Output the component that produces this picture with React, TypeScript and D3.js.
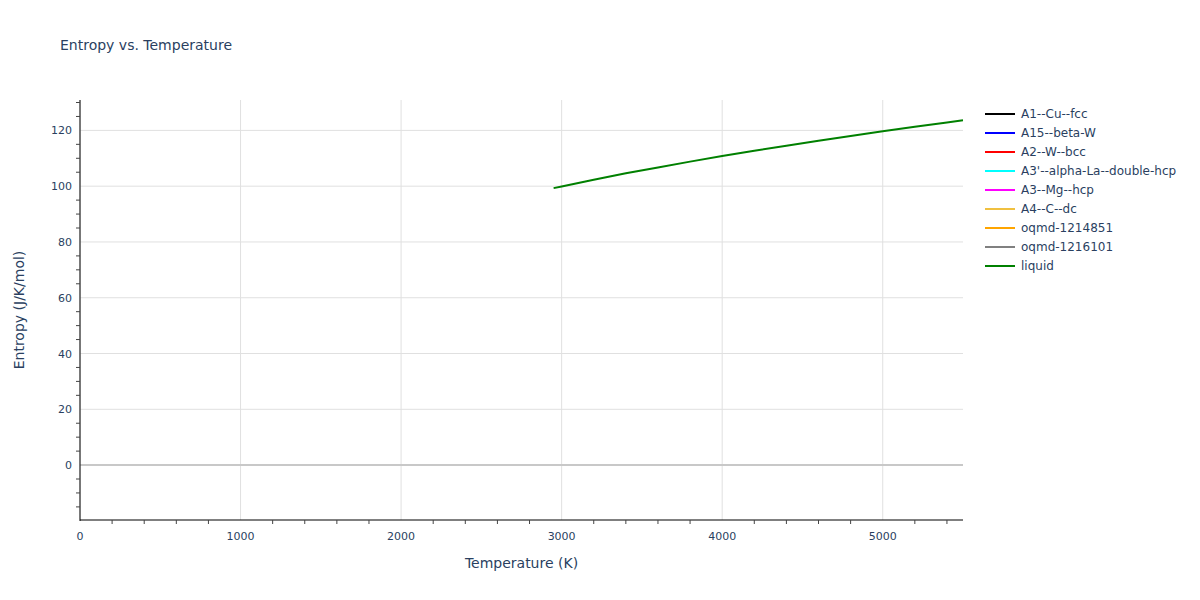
import React from "react";
import * as d3 from "d3";

const seriesNames = [
  "A1--Cu--fcc",
  "A15--beta-W",
  "A2--W--bcc",
  "A3'--alpha-La--double-hcp",
  "A3--Mg--hcp",
  "A4--C--dc",
  "oqmd-1214851",
  "oqmd-1216101",
  "liquid",
];
const seriesColors = [
  "#000000",
  "#0000ff",
  "#ff0000",
  "#00ffff",
  "#ff00ff",
  "#f0c040",
  "#ffa500",
  "#808080",
  "#008000",
];

const liquidT = [2950, 3000, 3200, 3400, 3600, 3800, 4000, 4200, 4400, 4600, 4800, 5000, 5200, 5400, 5500];
const liquidS = [99.3, 99.9, 102.3, 104.6, 106.7, 108.8, 110.8, 112.7, 114.5, 116.3, 118.0, 119.7, 121.3, 122.8, 123.6];

const xTicks = [0, 1000, 2000, 3000, 4000, 5000];
const yTicks = [0, 20, 40, 60, 80, 100, 120];

const W = 1200;
const H = 600;
const left = 80, right = 963, top = 100, bottom = 520;
const font = "'DejaVu Sans', Verdana, sans-serif";
const textColor = "#2a3f5f";

export default function App() {
  const x = d3.scaleLinear().domain([0, 5500]).range([left, right]);
  const y = d3.scaleLinear().domain([-19.7, 130.9]).range([bottom, top]);
  const line = d3
    .line<number>()
    .x((_, i) => x(liquidT[i]))
    .y((d) => y(d));
  const xMinor = d3.range(0, 5501, 200).filter((v) => v % 1000 !== 0);
  const yMinor = d3.range(-15, 131, 5).filter((v) => v % 20 !== 0);

  return (
    <svg width={W} height={H} style={{ position: "absolute", left: 0, top: 0, background: "#fff" }} fontFamily={font}>
      <text x={60} y={50} fontSize={14} fill={textColor}>Entropy vs. Temperature</text>
      {xTicks.map((t) => (
        <line key={"gx" + t} x1={x(t)} x2={x(t)} y1={top} y2={bottom} stroke="#e0e0e0" strokeWidth={1} />
      ))}
      {yTicks.map((t) => (
        <line key={"gy" + t} x1={left} x2={right} y1={y(t)} y2={y(t)} stroke={t === 0 ? "#c8c8c8" : "#e0e0e0"} strokeWidth={t === 0 ? 2 : 1} />
      ))}
      <path d={line(liquidS) || ""} fill="none" stroke="#008000" strokeWidth={2} />
      <line x1={left} x2={left} y1={top} y2={bottom + 1} stroke="#000" strokeWidth={1} />
      <line x1={left} x2={right} y1={bottom} y2={bottom} stroke="#000" strokeWidth={1} />
      {xMinor.map((t) => (
        <line key={"mx" + t} x1={x(t)} x2={x(t)} y1={bottom} y2={bottom + 4} stroke="#444" strokeWidth={1} />
      ))}
      {yMinor.map((t) => (
        <line key={"my" + t} x1={left - 4} x2={left} y1={y(t)} y2={y(t)} stroke="#444" strokeWidth={1} />
      ))}
      {xTicks.map((t) => (
        <text key={"tx" + t} x={x(t)} y={bottom + 20} fontSize={11} fill={textColor} textAnchor="middle">{t}</text>
      ))}
      {yTicks.map((t) => (
        <text key={"ty" + t} x={left - 8} y={y(t) + 4} fontSize={11} fill={textColor} textAnchor="end">{t}</text>
      ))}
      <text x={(left + right) / 2} y={568} fontSize={14} fill={textColor} textAnchor="middle">Temperature (K)</text>
      <text transform={`translate(24,${(top + bottom) / 2}) rotate(-90)`} fontSize={14} fill={textColor} textAnchor="middle">Entropy (J/K/mol)</text>
      {seriesNames.map((n, i) => (
        <g key={n} transform={`translate(985,${114 + i * 19})`}>
          <line x1={0} x2={30} y1={0} y2={0} stroke={seriesColors[i]} strokeWidth={2} />
          <text x={36} y={4} fontSize={12} fill={textColor}>{n}</text>
        </g>
      ))}
    </svg>
  );
}
